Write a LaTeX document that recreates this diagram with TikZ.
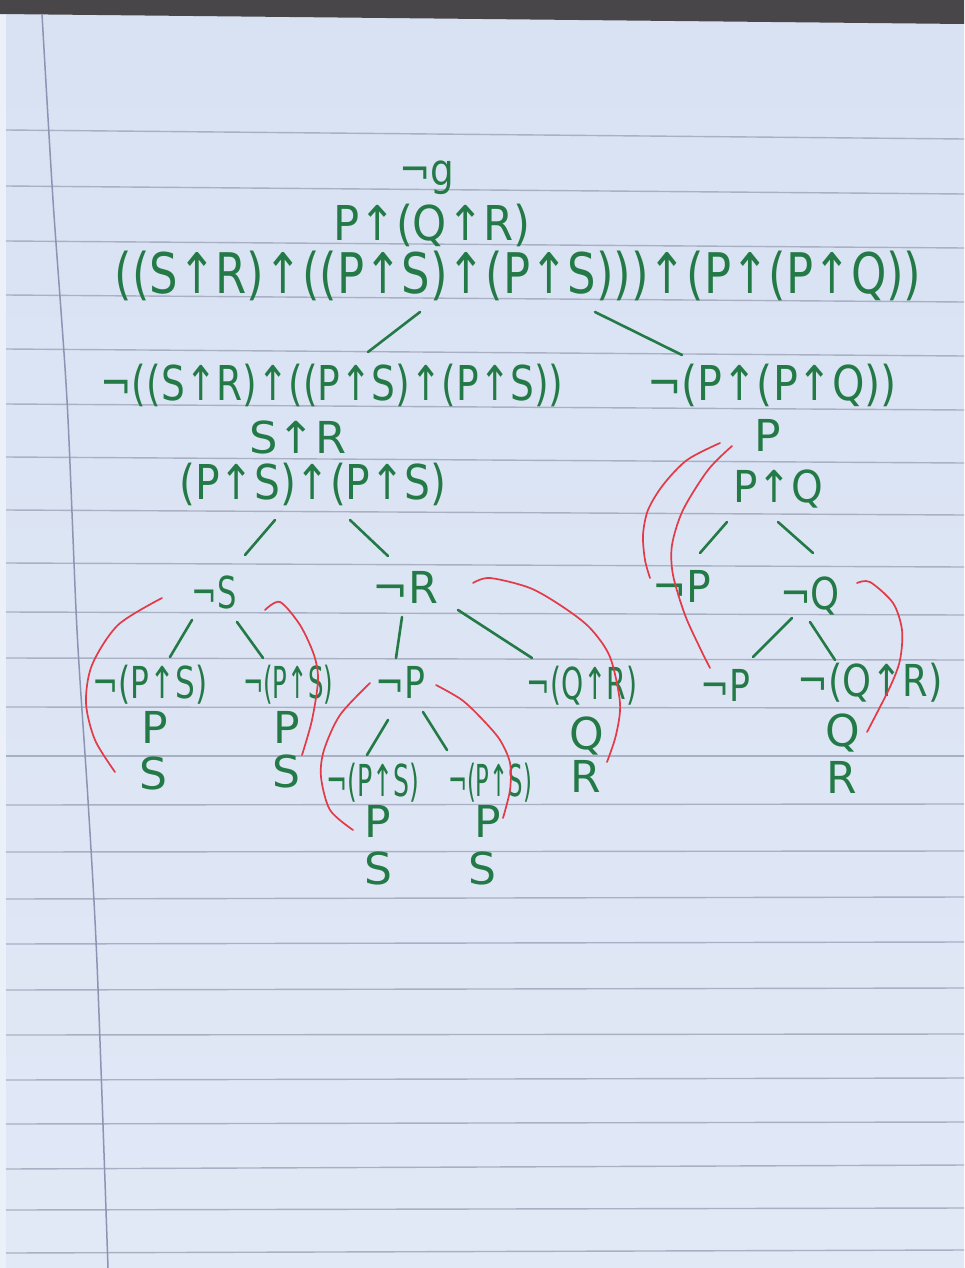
\documentclass[tikz,border=0pt]{standalone}
\usepackage{fontspec}
\setmainfont{DejaVu Sans}
\usepackage{graphicx}
\definecolor{ink}{RGB}{36,122,70}
\definecolor{redink}{RGB}{226,58,70}
\definecolor{papertop}{RGB}{216,226,243}
\definecolor{paperbot}{RGB}{225,232,246}
\definecolor{ruleline}{RGB}{170,176,196}
\definecolor{marginline}{RGB}{140,148,180}
\definecolor{deskdark}{RGB}{72,70,72}
\definecolor{paperedge}{RGB}{236,240,248}
\tikzset{
  txt/.style={inner sep=0pt, text=ink, font=\fontsize{44}{48}\selectfont},
  formtxt/.style={inner sep=0pt, text=ink, font=\fontsize{48}{52}\selectfont},
  bigtxt/.style={inner sep=0pt, text=ink, font=\fontsize{56}{60}\selectfont},
  edge/.style={draw=ink, line width=2.6pt, line cap=round},
  closing/.style={draw=redink, line width=1.7pt, line cap=round},
  rl/.style={draw=ruleline, line width=1.4pt},
}
\newcommand{\hw}[2]{\resizebox{#1pt}{\height}{#2}}
\begin{document}
\begin{tikzpicture}[x=1pt,y=-1pt]
\useasboundingbox (0,0) rectangle (964,1268);
% paper
\shade[top color=papertop, bottom color=paperbot] (0,0) rectangle (964,1268);
\fill[paperedge] (0,0) rectangle (6,1268);
\fill[deskdark] (0,0) -- (964,0) -- (964,24) -- (0,14) -- cycle;
% ruled lines
\foreach \a/\b in {130/139,186/194,241/248,295/302,349/356,404/410,457/463,510/515,563/567,612/615,658/660,707/708,756/756,805/804,852/851,899/897,944/942,990/988,1035/1034,1080/1078,1124/1122,1169/1165,1210/1208,1253/1250}
  \draw[rl] (6,\a) -- (964,\b);
\draw[draw=marginline, line width=1.5pt] plot[smooth] coordinates {(42,14) (53,200) (67,400) (77,630) (88,800) (97,963) (108,1268)};

% formulas
\node[txt] (n0) at (427,178) {\hw{55}{¬g}};
\node[formtxt] (n1) at (432,225) {\hw{197}{P↑(Q↑R)}};
\node[bigtxt] (n2) at (518,276) {\hw{807}{((S↑R)↑((P↑S)↑(P↑S)))↑(P↑(P↑Q))}};

\node[formtxt] (L1) at (332,385) {\hw{463}{¬((S↑R)↑((P↑S)↑(P↑S))}};
\node[formtxt] (R1) at (772,385) {\hw{250}{¬(P↑(P↑Q))}};
\node[txt] (L2) at (298,437) {\hw{97}{S↑R}};
\node[txt] (R2) at (768,435) {P};
\node[formtxt] (L3) at (313,484) {\hw{267}{(P↑S)↑(P↑S)}};
\node[txt] (R3) at (778,489) {\hw{90}{P↑Q}};

\node[txt] (nS) at (214,592) {\hw{45}{¬S}};
\node[txt] (nR) at (405,587) {\hw{66}{¬R}};
\node[txt] (nP1) at (682,586) {\hw{59}{¬P}};
\node[txt] (nQ1) at (810,596) {\hw{60}{¬Q}};

\node[txt] (a1) at (150,685) {\hw{115}{¬(P↑S)}};
\node[txt] (a1p) at (155,727) {P};
\node[txt] (a1s) at (153,773) {S};
\node[txt] (a2) at (288,685) {\hw{90}{¬(P↑S)}};
\node[txt] (a2p) at (287,727) {P};
\node[txt] (a2s) at (286,771) {S};
\node[txt] (b1) at (400,682) {\hw{50}{¬P}};
\node[txt] (c1) at (582,686) {\hw{111}{¬(Q↑R)}};
\node[txt] (c1q) at (587,736) {Q};
\node[txt] (c1r) at (586,776) {R};
\node[txt] (d1) at (725,685) {\hw{50}{¬P}};
\node[txt] (d2) at (870,683) {\hw{145}{¬(Q↑R)}};
\node[txt] (d2q) at (843,733) {Q};
\node[txt] (d2r) at (842,777) {R};

\node[txt] (e1) at (373,783) {\hw{93}{¬(P↑S)}};
\node[txt] (e1p) at (378,821) {P};
\node[txt] (e1s) at (378,868) {S};
\node[txt] (e2) at (490,783) {\hw{84}{¬(P↑S)}};
\node[txt] (e2p) at (488,821) {P};
\node[txt] (e2s) at (482,868) {S};

% branch strokes
\coordinate (k1a) at (420,312); \coordinate (k1b) at (368,352);
\coordinate (k2a) at (595,312); \coordinate (k2b) at (682,355);
\coordinate (k3a) at (275,520); \coordinate (k3b) at (245,555);
\coordinate (k4a) at (350,520); \coordinate (k4b) at (388,556);
\coordinate (k5a) at (727,522); \coordinate (k5b) at (700,553);
\coordinate (k6a) at (778,522); \coordinate (k6b) at (813,553);
\coordinate (k7a) at (192,620); \coordinate (k7b) at (170,657);
\coordinate (k8a) at (237,622); \coordinate (k8b) at (263,658);
\coordinate (k9a) at (402,617); \coordinate (k9b) at (396,658);
\coordinate (k10a) at (458,610); \coordinate (k10b) at (532,658);
\coordinate (k11a) at (388,720); \coordinate (k11b) at (367,755);
\coordinate (k12a) at (423,712); \coordinate (k12b) at (447,750);
\coordinate (k13a) at (792,618); \coordinate (k13b) at (753,657);
\coordinate (k14a) at (810,622); \coordinate (k14b) at (835,660);
\foreach \i in {1,...,14} \draw[edge] (k\i a) -- (k\i b);

% closing arcs
\draw[closing] plot[smooth] coordinates {(162,598) (118,625) (92,665) (86,703) (95,740) (115,772)};
\draw[closing] plot[smooth] coordinates {(265,610) (280,602) (300,625) (314,655) (318,680) (312,720) (302,755)};
\draw[closing] plot[smooth] coordinates {(370,683) (340,715) (324,750) (321,777) (330,810) (353,830)};
\draw[closing] plot[smooth] coordinates {(436,685) (462,700) (483,720) (500,740) (510,763) (510,790) (503,818)};
\draw[closing] plot[smooth] coordinates {(473,583) (490,578) (530,588) (563,607) (590,628) (610,657) (620,703) (616,735) (607,762)};
\draw[closing] plot[smooth] coordinates {(720,443) (687,460) (663,485) (648,510) (643,535) (645,560) (650,578)};
\draw[closing] plot[smooth] coordinates {(732,446) (708,470) (683,510) (672,545) (673,575) (685,615) (700,648) (710,668)};
\draw[closing] plot[smooth] coordinates {(857,583) (870,582) (893,603) (902,630) (900,660) (890,687) (867,732)};
\end{tikzpicture}
\end{document}
